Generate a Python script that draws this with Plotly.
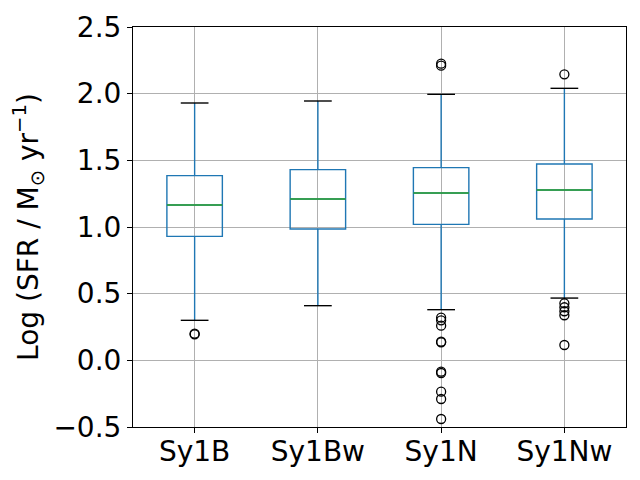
import plotly.graph_objects as go

categories = ["Sy1B", "Sy1Bw", "Sy1N", "Sy1Nw"]
q1 = [0.93, 0.985, 1.02, 1.06]
median = [1.165, 1.21, 1.255, 1.277]
q3 = [1.385, 1.43, 1.445, 1.472]
lower_whisker = [0.30, 0.41, 0.38, 0.467]
upper_whisker = [1.93, 1.945, 1.995, 2.04]
outliers = [
    [0.195, 0.20],
    [],
    [2.21, 2.225, 0.32, 0.30, 0.26, 0.14, 0.135, -0.085, -0.095, -0.235, -0.29, -0.44],
    [2.145, 0.428, 0.398, 0.368, 0.338, 0.115],
]

positions = list(range(1, len(categories) + 1))
box_width = 0.45
cap_half = box_width / 4
med_half = box_width / 2

BLUE = "#1f77b4"
GREEN = "#2ca02c"
FONT = "DejaVu Sans"
FS = 28
LW = 1.4

fig = go.Figure()

for i, p in enumerate(positions):
    fig.add_trace(go.Box(
        x=[p], q1=[q1[i]], median=[median[i]], q3=[q3[i]],
        lowerfence=[lower_whisker[i]], upperfence=[upper_whisker[i]],
        width=box_width, whiskerwidth=0,
        line=dict(color=BLUE, width=LW),
        fillcolor="rgba(0,0,0,0)",
        boxpoints=False, showlegend=False, hoverinfo="skip",
    ))

# medians
mx, my = [], []
for i, p in enumerate(positions):
    mx += [p - med_half, p + med_half, None]
    my += [median[i], median[i], None]
fig.add_trace(go.Scatter(x=mx, y=my, mode="lines", line=dict(color=GREEN, width=LW),
                         showlegend=False, hoverinfo="skip"))

# caps
cx, cy = [], []
for i, p in enumerate(positions):
    for v in (lower_whisker[i], upper_whisker[i]):
        cx += [p - cap_half, p + cap_half, None]
        cy += [v, v, None]
fig.add_trace(go.Scatter(x=cx, y=cy, mode="lines", line=dict(color="black", width=LW),
                         showlegend=False, hoverinfo="skip"))

# outliers
ox, oy = [], []
for i, p in enumerate(positions):
    for v in outliers[i]:
        ox.append(p)
        oy.append(v)
fig.add_trace(go.Scatter(x=ox, y=oy, mode="markers",
                         marker=dict(symbol="circle-open", size=9, color="black", line=dict(width=1.3)),
                         showlegend=False, hoverinfo="skip"))

fig.update_layout(
    width=632, height=472,
    margin=dict(l=125, r=14, t=19, b=53, autoexpand=False),
    paper_bgcolor="white", plot_bgcolor="white",
    font=dict(family=FONT, size=FS, color="black"),
    showlegend=False,
)
fig.update_xaxes(
    range=[0.5, 4.5], tickmode="array", tickvals=positions, ticktext=categories,
    showgrid=True, gridcolor="#b0b0b0", gridwidth=1,
    showline=True, linecolor="black", linewidth=1, mirror=True,
    ticks="outside", ticklen=5, tickcolor="black", zeroline=False,
    tickfont=dict(size=FS), automargin=False, ticklabelstandoff=-6,
)
fig.update_yaxes(
    range=[-0.5, 2.5], tickmode="linear", tick0=-0.5, dtick=0.5, tickformat=".1f",
    showgrid=True, gridcolor="#b0b0b0", gridwidth=1,
    showline=True, linecolor="black", linewidth=1, mirror=True,
    ticks="outside", ticklen=5, tickcolor="black", zeroline=False,
    tickfont=dict(size=FS), automargin=False,
    title=dict(text="Log (SFR / M<sub>⊙</sub> yr<sup>−1</sup>)", font=dict(size=FS), standoff=8),
)

fig.write_html("out.html")
